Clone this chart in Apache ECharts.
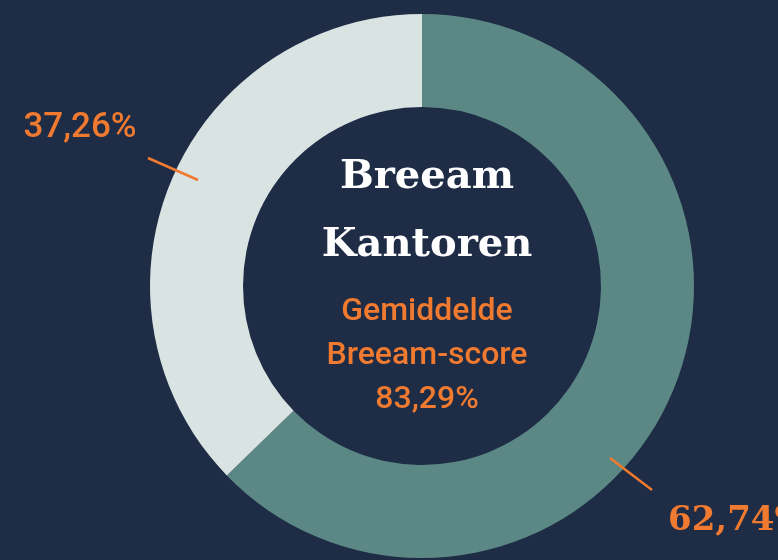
<!DOCTYPE html>
<html>
<head>
<meta charset="utf-8">
<script src="https://cdn.jsdelivr.net/npm/echarts@6/dist/echarts.min.js"></script>
<style>
  html, body { margin: 0; padding: 0; background: #1e2c46; }
  #chart { width: 778px; height: 560px; }
</style>
</head>
<body>
<div id="chart"></div>
<script>
const sliceNames = ['Hoog', 'Overig'];
const sliceValues = [62.74, 37.26];
const sliceColors = ['#5b8884', '#d9e3e1'];
const averageScore = '83,29%';

const orange = '#f07a2f';

const fmt = v => v.toFixed(2).replace('.', ',') + '%';

// where each label sits and how its leader line runs
const labelSpots = [
    { x: 668, y: 521, align: 'left', font: 'DejaVu Serif', weight: 'bold', size: 34, line: [[610, 458], [631, 474], [652, 490]] },
    { x: 80, y: 128, align: 'center', font: 'Roboto', weight: 500, size: 35, line: [[198, 180], [173, 169], [148, 158]] }
];

const chart = echarts.init(document.getElementById('chart'));

const ring = {
    type: 'pie',
    center: [422, 286],
    radius: [179, 272],
    startAngle: 90,
    silent: true,
    emphasis: { disabled: true }
};

chart.setOption({
    backgroundColor: '#1e2c46',
    animation: false,
    title: {
        text: 'Breeam\nKantoren',
        subtext: 'Gemiddelde\nBreeam-score\n' + averageScore,
        left: 422,
        top: 139,
        textAlign: 'center',
        itemGap: 10,
        textStyle: {
            color: '#ffffff',
            fontFamily: 'DejaVu Serif',
            fontWeight: 'bold',
            fontSize: 40,
            lineHeight: 68
        },
        subtextStyle: {
            color: orange,
            fontFamily: 'Roboto',
            fontWeight: 500,
            fontSize: 32,
            lineHeight: 44
        }
    },
    series: [
        Object.assign({}, ring, {
            z: 2,
            label: { show: false },
            labelLine: { show: false },
            data: sliceValues.map((v, i) => ({
                name: sliceNames[i],
                value: v,
                itemStyle: { color: sliceColors[i] }
            }))
        }),
        // same ring again, see-through, so the leader lines sit on top of the slices
        Object.assign({}, ring, {
            z: 3,
            itemStyle: { color: 'rgba(0,0,0,0)' },
            label: {
                show: true,
                position: 'outside',
                color: orange,
                overflow: 'none',
                formatter: p => fmt(p.value)
            },
            labelLine: {
                show: true,
                lineStyle: { color: orange, width: 2.5 }
            },
            labelLayout: function (params) {
                const s = labelSpots[params.dataIndex];
                return {
                    x: s.x,
                    y: s.y,
                    align: s.align,
                    verticalAlign: 'middle',
                    labelLinePoints: s.line
                };
            },
            data: sliceValues.map((v, i) => ({
                name: sliceNames[i],
                value: v,
                label: {
                    fontFamily: labelSpots[i].font,
                    fontWeight: labelSpots[i].weight,
                    fontSize: labelSpots[i].size
                }
            }))
        })
    ]
});
</script>
</body>
</html>
